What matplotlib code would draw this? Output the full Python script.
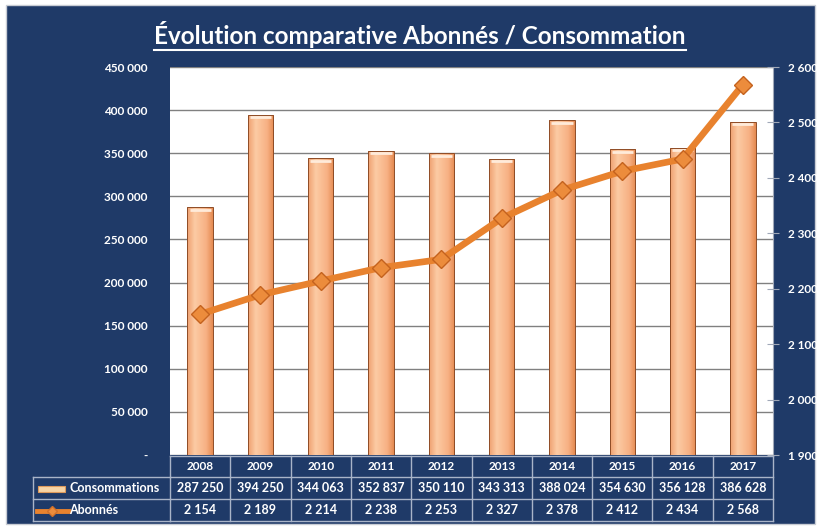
import numpy as np
import matplotlib
matplotlib.use("Agg")
import matplotlib.pyplot as plt
from matplotlib.colors import LinearSegmentedColormap
from matplotlib.lines import Line2D
from matplotlib.patches import Rectangle
import matplotlib.transforms as mtransforms

plt.rcParams['font.family'] = ['Lato', 'DejaVu Sans']

years = ['2008', '2009', '2010', '2011', '2012', '2013', '2014', '2015', '2016', '2017']
consommations = [287250, 394250, 344063, 352837, 350110, 343313, 388024, 354630, 356128, 386628]
abonnes = [2154, 2189, 2214, 2238, 2253, 2327, 2378, 2412, 2434, 2568]

navy = '#1F3A68'
W, H = 819, 526


def fx(x):
    return x / W


def fy(y):
    return 1 - y / H


def fmt(v):
    return f"{v:,}".replace(",", " ")


fig = plt.figure(figsize=(W / 100, H / 100), dpi=100, facecolor='white')
fig.patches.append(Rectangle((fx(6), fy(524)), fx(809), 519 / H, transform=fig.transFigure,
                             facecolor=navy, edgecolor='#C8CCD4', lw=1, zorder=-10))

ax = fig.add_axes([fx(170), fy(455), fx(603), 388 / H])
ax.set_facecolor('white')
x = np.arange(len(years))

# bars with a cylinder-like gradient
grad = LinearSegmentedColormap.from_list('g', [(0, '#EFA070'), (0.3, '#FCCBA4'),
                                               (0.75, '#F7B083'), (1, '#E58B52')])
bars = ax.bar(x, consommations, width=0.42, facecolor='none', edgecolor='#8E4C26', lw=0.7, zorder=3)
g = np.linspace(0, 1, 64).reshape(1, -1)
for b in bars:
    bx, bw, bh = b.get_x(), b.get_width(), b.get_height()
    im = ax.imshow(g, cmap=grad, extent=[bx, bx + bw, 0, bh], aspect='auto', zorder=2)
    im.set_clip_path(b)
    ax.plot([bx + bw * 0.08, bx + bw * 0.92], [bh - 2800, bh - 2800], color='#FFEBDA', lw=2,
            zorder=3, solid_capstyle='butt')

ax.set_xlim(-0.5, len(years) - 0.5)
ax.set_ylim(0, 450000)
ax.set_yticks(np.arange(0, 450001, 50000))
ax.set_yticklabels(['-'] + [fmt(v) for v in range(50000, 450001, 50000)])
ax.set_xticks([])
ax.yaxis.grid(True, color='#808080', lw=1, zorder=1)
ax.set_axisbelow(True)
ax.tick_params(axis='y', length=0, labelcolor='white', labelsize=8.5, pad=16)
for t in ax.get_yticklabels():
    t.set_fontweight('bold')
for s in ax.spines.values():
    s.set_visible(False)

ax2 = ax.twinx()
ax2.plot(x, abonnes, color='#E8822E', lw=4.8, marker='D', markersize=9.5,
         markerfacecolor='#EC8C3C', markeredgecolor='#C4621E', markeredgewidth=1, zorder=5)
ax2.set_ylim(1900, 2600)
ax2.set_yticks(np.arange(1900, 2601, 100))
ax2.set_yticklabels([fmt(v) for v in range(1900, 2601, 100)])
ax2.tick_params(axis='y', direction='inout', length=9, color='#A0A8B8', labelcolor='white',
                labelsize=8.5, pad=6)
for t in ax2.get_yticklabels():
    t.set_fontweight('bold')
for s in ax2.spines.values():
    s.set_visible(False)
ax2.spines['right'].set_visible(True)
ax2.spines['right'].set_color('#A0A8B8')

# data table
trans = mtransforms.blended_transform_factory(ax.transData, fig.transFigure)
lc = '#A9B4C8'
rows = [456, 477, 499, 521]
x0 = -0.5
x1 = len(years) - 0.5
fig.add_artist(Line2D([x0, x1], [fy(rows[0])] * 2, transform=trans, color=lc, lw=1))
for r in rows[1:]:
    fig.add_artist(Line2D([fx(33), fx(170)], [fy(r)] * 2, transform=fig.transFigure, color=lc, lw=1))
    fig.add_artist(Line2D([x0, x1], [fy(r)] * 2, transform=trans, color=lc, lw=1))
fig.add_artist(Line2D([fx(33), fx(33)], [fy(rows[1]), fy(rows[3])], transform=fig.transFigure,
                      color=lc, lw=1))
for i in range(len(years) + 1):
    fig.add_artist(Line2D([i - 0.5, i - 0.5], [fy(rows[0]), fy(rows[3])], transform=trans,
                          color=lc, lw=1))

fs = 9
for i, yr in enumerate(years):
    fig.text(i, fy((rows[0] + rows[1]) / 2), yr, transform=trans, ha='center', va='center',
             color='white', fontsize=8.5, fontweight='bold')
    fig.text(i, fy((rows[1] + rows[2]) / 2), fmt(consommations[i]), transform=trans,
             ha='center', va='center', color='white', fontsize=fs, fontweight='bold')
    fig.text(i, fy((rows[2] + rows[3]) / 2), fmt(abonnes[i]), transform=trans,
             ha='center', va='center', color='white', fontsize=fs, fontweight='bold')

fig.text(fx(69), fy((rows[1] + rows[2]) / 2), 'Consommations', ha='left', va='center',
         color='white', fontsize=fs, fontweight='bold')
fig.text(fx(69), fy((rows[2] + rows[3]) / 2), 'Abonnés', ha='left', va='center',
         color='white', fontsize=fs, fontweight='bold')
fig.patches.append(Rectangle((fx(38), fy(492)), fx(27), 6 / H, transform=fig.transFigure,
                             facecolor='#F6D4A6', edgecolor='#DE9A5C', lw=0.8))
fig.add_artist(Line2D([fx(37), fx(68)], [fy(511)] * 2, transform=fig.transFigure,
                      color='#E8822E', lw=3.5))
fig.add_artist(Line2D([fx(52)], [fy(511)], transform=fig.transFigure, marker='D',
                      markersize=5, markerfacecolor='#EC8C3C', markeredgecolor='#D0702A',
                      linestyle='none'))

# title with underline
title = fig.text(0.513, fy(34), 'Évolution comparative Abonnés / Consommation', ha='center',
                 va='center', color='white', fontsize=17.5, fontweight='bold')
fig.canvas.draw()
bb = title.get_window_extent(fig.canvas.get_renderer()).transformed(fig.transFigure.inverted())
fig.add_artist(Line2D([bb.x0, bb.x1], [bb.y0 - 0.004] * 2, transform=fig.transFigure,
                      color='white', lw=1.5))

fig.savefig('out.png', dpi=100, facecolor=fig.get_facecolor())
